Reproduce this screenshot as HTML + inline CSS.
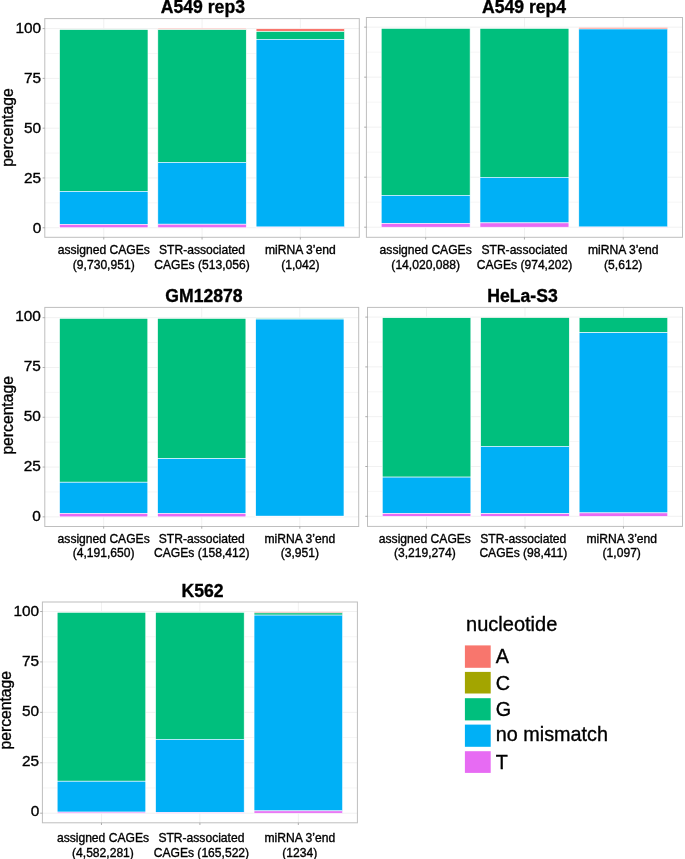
<!DOCTYPE html>
<html><head><meta charset="utf-8"><style>
html,body{margin:0;padding:0;background:#fff;overflow:hidden;width:685px;height:859px;}
svg{display:block;will-change:transform;}
text{font-family:'Liberation Sans', sans-serif;fill:#000;stroke:#000;stroke-width:0.35px;}
</style></head><body>
<svg width="685" height="859" viewBox="0 0 685 859">
<rect width="685" height="859" fill="#fff"/>
<line x1="44.8" x2="359.3" y1="202.86" y2="202.86" stroke="#f6f6f6" stroke-width="1"/>
<line x1="44.8" x2="359.3" y1="153.07" y2="153.07" stroke="#f6f6f6" stroke-width="1"/>
<line x1="44.8" x2="359.3" y1="103.28" y2="103.28" stroke="#f6f6f6" stroke-width="1"/>
<line x1="44.8" x2="359.3" y1="53.49" y2="53.49" stroke="#f6f6f6" stroke-width="1"/>
<line x1="44.8" x2="359.3" y1="227.75" y2="227.75" stroke="#f1f1f1" stroke-width="1"/>
<line x1="44.8" x2="359.3" y1="177.96" y2="177.96" stroke="#f1f1f1" stroke-width="1"/>
<line x1="44.8" x2="359.3" y1="128.18" y2="128.18" stroke="#f1f1f1" stroke-width="1"/>
<line x1="44.8" x2="359.3" y1="78.39" y2="78.39" stroke="#f1f1f1" stroke-width="1"/>
<line x1="44.8" x2="359.3" y1="28.60" y2="28.60" stroke="#f1f1f1" stroke-width="1"/>
<line x1="103.77" x2="103.77" y1="18.6" y2="237.3" stroke="#f1f1f1" stroke-width="1"/>
<line x1="202.05" x2="202.05" y1="18.6" y2="237.3" stroke="#f1f1f1" stroke-width="1"/>
<line x1="300.33" x2="300.33" y1="18.6" y2="237.3" stroke="#f1f1f1" stroke-width="1"/>
<rect x="59.54" y="29.60" width="88.45" height="161.80" fill="#00BF7D" stroke="#fff" stroke-width="0.6"/>
<rect x="59.54" y="191.40" width="88.45" height="32.90" fill="#00B0F6" stroke="#fff" stroke-width="0.6"/>
<rect x="59.54" y="224.30" width="88.45" height="3.45" fill="#E76BF3" stroke="#fff" stroke-width="0.6"/>
<rect x="157.82" y="28.35" width="88.45" height="1.35" fill="#F8766D" stroke="#fff" stroke-width="0.6"/>
<rect x="157.82" y="29.70" width="88.45" height="132.70" fill="#00BF7D" stroke="#fff" stroke-width="0.6"/>
<rect x="157.82" y="162.40" width="88.45" height="61.80" fill="#00B0F6" stroke="#fff" stroke-width="0.6"/>
<rect x="157.82" y="224.20" width="88.45" height="3.55" fill="#E76BF3" stroke="#fff" stroke-width="0.6"/>
<rect x="256.10" y="28.70" width="88.45" height="2.80" fill="#F8766D" stroke="#fff" stroke-width="0.6"/>
<rect x="256.10" y="31.50" width="88.45" height="7.80" fill="#00BF7D" stroke="#fff" stroke-width="0.6"/>
<rect x="256.10" y="39.30" width="88.45" height="187.70" fill="#00B0F6" stroke="#fff" stroke-width="0.6"/>
<rect x="256.10" y="227.00" width="88.45" height="0.75" fill="#E76BF3" stroke="#fff" stroke-width="0.6"/>
<rect x="44.8" y="18.6" width="314.50" height="218.70" fill="none" stroke="#bebebe" stroke-width="1.0"/>
<line x1="42.60" x2="44.8" y1="227.75" y2="227.75" stroke="#999" stroke-width="0.8"/>
<line x1="42.60" x2="44.8" y1="177.96" y2="177.96" stroke="#999" stroke-width="0.8"/>
<line x1="42.60" x2="44.8" y1="128.18" y2="128.18" stroke="#999" stroke-width="0.8"/>
<line x1="42.60" x2="44.8" y1="78.39" y2="78.39" stroke="#999" stroke-width="0.8"/>
<line x1="42.60" x2="44.8" y1="28.60" y2="28.60" stroke="#999" stroke-width="0.8"/>
<line x1="103.77" x2="103.77" y1="237.3" y2="239.50" stroke="#999" stroke-width="0.8"/>
<line x1="202.05" x2="202.05" y1="237.3" y2="239.50" stroke="#999" stroke-width="0.8"/>
<line x1="300.33" x2="300.33" y1="237.3" y2="239.50" stroke="#999" stroke-width="0.8"/>
<text x="41.2" y="32.90" text-anchor="end" font-size="15.4">100</text>
<text x="41.2" y="82.70" text-anchor="end" font-size="15.4">75</text>
<text x="41.2" y="132.65" text-anchor="end" font-size="15.4">50</text>
<text x="41.2" y="182.75" text-anchor="end" font-size="15.4">25</text>
<text x="41.2" y="232.90" text-anchor="end" font-size="15.4">0</text>
<text transform="translate(12.5,127.6) rotate(-90)" text-anchor="middle" font-size="15.7">percentage</text>
<text x="202.9" y="12.9" text-anchor="middle" font-size="17.6" font-weight="bold">A549 rep3</text>
<text x="103.77" y="254.00" text-anchor="middle" font-size="12.1">assigned CAGEs</text>
<text x="103.77" y="268.70" text-anchor="middle" font-size="12.1">(9,730,951)</text>
<text x="202.05" y="254.00" text-anchor="middle" font-size="12.1">STR-associated</text>
<text x="202.05" y="268.70" text-anchor="middle" font-size="12.1">CAGEs (513,056)</text>
<text x="300.33" y="254.00" text-anchor="middle" font-size="12.1">miRNA 3’end</text>
<text x="300.33" y="268.70" text-anchor="middle" font-size="12.1">(1,042)</text>
<line x1="366.4" x2="682.5" y1="202.19" y2="202.19" stroke="#f6f6f6" stroke-width="1"/>
<line x1="366.4" x2="682.5" y1="152.18" y2="152.18" stroke="#f6f6f6" stroke-width="1"/>
<line x1="366.4" x2="682.5" y1="102.17" y2="102.17" stroke="#f6f6f6" stroke-width="1"/>
<line x1="366.4" x2="682.5" y1="52.16" y2="52.16" stroke="#f6f6f6" stroke-width="1"/>
<line x1="366.4" x2="682.5" y1="227.20" y2="227.20" stroke="#f1f1f1" stroke-width="1"/>
<line x1="366.4" x2="682.5" y1="177.19" y2="177.19" stroke="#f1f1f1" stroke-width="1"/>
<line x1="366.4" x2="682.5" y1="127.17" y2="127.17" stroke="#f1f1f1" stroke-width="1"/>
<line x1="366.4" x2="682.5" y1="77.16" y2="77.16" stroke="#f1f1f1" stroke-width="1"/>
<line x1="366.4" x2="682.5" y1="27.15" y2="27.15" stroke="#f1f1f1" stroke-width="1"/>
<line x1="425.67" x2="425.67" y1="17.5" y2="237.3" stroke="#f1f1f1" stroke-width="1"/>
<line x1="524.45" x2="524.45" y1="17.5" y2="237.3" stroke="#f1f1f1" stroke-width="1"/>
<line x1="623.23" x2="623.23" y1="17.5" y2="237.3" stroke="#f1f1f1" stroke-width="1"/>
<rect x="381.22" y="28.40" width="88.90" height="166.90" fill="#00BF7D" stroke="#fff" stroke-width="0.6"/>
<rect x="381.22" y="195.30" width="88.90" height="28.10" fill="#00B0F6" stroke="#fff" stroke-width="0.6"/>
<rect x="381.22" y="223.40" width="88.90" height="3.80" fill="#E76BF3" stroke="#fff" stroke-width="0.6"/>
<rect x="480.00" y="28.40" width="88.90" height="148.90" fill="#00BF7D" stroke="#fff" stroke-width="0.6"/>
<rect x="480.00" y="177.30" width="88.90" height="45.60" fill="#00B0F6" stroke="#fff" stroke-width="0.6"/>
<rect x="480.00" y="222.90" width="88.90" height="4.30" fill="#E76BF3" stroke="#fff" stroke-width="0.6"/>
<rect x="578.78" y="27.40" width="88.90" height="1.60" fill="#F8766D" stroke="#fff" stroke-width="0.6"/>
<rect x="578.78" y="29.00" width="88.90" height="198.00" fill="#00B0F6" stroke="#fff" stroke-width="0.6"/>
<rect x="578.78" y="227.00" width="88.90" height="0.20" fill="#E76BF3" stroke="#fff" stroke-width="0.6"/>
<rect x="366.4" y="17.5" width="316.10" height="219.80" fill="none" stroke="#bebebe" stroke-width="1.0"/>
<line x1="364.20" x2="366.4" y1="227.20" y2="227.20" stroke="#999" stroke-width="0.8"/>
<line x1="364.20" x2="366.4" y1="177.19" y2="177.19" stroke="#999" stroke-width="0.8"/>
<line x1="364.20" x2="366.4" y1="127.17" y2="127.17" stroke="#999" stroke-width="0.8"/>
<line x1="364.20" x2="366.4" y1="77.16" y2="77.16" stroke="#999" stroke-width="0.8"/>
<line x1="364.20" x2="366.4" y1="27.15" y2="27.15" stroke="#999" stroke-width="0.8"/>
<line x1="425.67" x2="425.67" y1="237.3" y2="239.50" stroke="#999" stroke-width="0.8"/>
<line x1="524.45" x2="524.45" y1="237.3" y2="239.50" stroke="#999" stroke-width="0.8"/>
<line x1="623.23" x2="623.23" y1="237.3" y2="239.50" stroke="#999" stroke-width="0.8"/>
<text x="524.0" y="12.9" text-anchor="middle" font-size="17.6" font-weight="bold">A549 rep4</text>
<text x="425.67" y="254.00" text-anchor="middle" font-size="12.1">assigned CAGEs</text>
<text x="425.67" y="268.70" text-anchor="middle" font-size="12.1">(14,020,088)</text>
<text x="524.45" y="254.00" text-anchor="middle" font-size="12.1">STR-associated</text>
<text x="524.45" y="268.70" text-anchor="middle" font-size="12.1">CAGEs (974,202)</text>
<text x="623.23" y="254.00" text-anchor="middle" font-size="12.1">miRNA 3’end</text>
<text x="623.23" y="268.70" text-anchor="middle" font-size="12.1">(5,612)</text>
<line x1="44.8" x2="358.7" y1="491.96" y2="491.96" stroke="#f6f6f6" stroke-width="1"/>
<line x1="44.8" x2="358.7" y1="442.17" y2="442.17" stroke="#f6f6f6" stroke-width="1"/>
<line x1="44.8" x2="358.7" y1="392.38" y2="392.38" stroke="#f6f6f6" stroke-width="1"/>
<line x1="44.8" x2="358.7" y1="342.59" y2="342.59" stroke="#f6f6f6" stroke-width="1"/>
<line x1="44.8" x2="358.7" y1="516.85" y2="516.85" stroke="#f1f1f1" stroke-width="1"/>
<line x1="44.8" x2="358.7" y1="467.06" y2="467.06" stroke="#f1f1f1" stroke-width="1"/>
<line x1="44.8" x2="358.7" y1="417.27" y2="417.27" stroke="#f1f1f1" stroke-width="1"/>
<line x1="44.8" x2="358.7" y1="367.49" y2="367.49" stroke="#f1f1f1" stroke-width="1"/>
<line x1="44.8" x2="358.7" y1="317.70" y2="317.70" stroke="#f1f1f1" stroke-width="1"/>
<line x1="103.66" x2="103.66" y1="307.4" y2="526.5" stroke="#f1f1f1" stroke-width="1"/>
<line x1="201.75" x2="201.75" y1="307.4" y2="526.5" stroke="#f1f1f1" stroke-width="1"/>
<line x1="299.84" x2="299.84" y1="307.4" y2="526.5" stroke="#f1f1f1" stroke-width="1"/>
<rect x="59.51" y="318.40" width="88.28" height="163.80" fill="#00BF7D" stroke="#fff" stroke-width="0.6"/>
<rect x="59.51" y="482.20" width="88.28" height="31.20" fill="#00B0F6" stroke="#fff" stroke-width="0.6"/>
<rect x="59.51" y="513.40" width="88.28" height="3.45" fill="#E76BF3" stroke="#fff" stroke-width="0.6"/>
<rect x="157.61" y="318.40" width="88.28" height="140.10" fill="#00BF7D" stroke="#fff" stroke-width="0.6"/>
<rect x="157.61" y="458.50" width="88.28" height="54.90" fill="#00B0F6" stroke="#fff" stroke-width="0.6"/>
<rect x="157.61" y="513.40" width="88.28" height="3.45" fill="#E76BF3" stroke="#fff" stroke-width="0.6"/>
<rect x="255.70" y="318.20" width="88.28" height="0.90" fill="#00BF7D" stroke="#fff" stroke-width="0.6"/>
<rect x="255.70" y="319.10" width="88.28" height="197.10" fill="#00B0F6" stroke="#fff" stroke-width="0.6"/>
<rect x="255.70" y="516.20" width="88.28" height="0.65" fill="#E76BF3" stroke="#fff" stroke-width="0.6"/>
<rect x="44.8" y="307.4" width="313.90" height="219.10" fill="none" stroke="#bebebe" stroke-width="1.0"/>
<line x1="42.60" x2="44.8" y1="516.85" y2="516.85" stroke="#999" stroke-width="0.8"/>
<line x1="42.60" x2="44.8" y1="467.06" y2="467.06" stroke="#999" stroke-width="0.8"/>
<line x1="42.60" x2="44.8" y1="417.27" y2="417.27" stroke="#999" stroke-width="0.8"/>
<line x1="42.60" x2="44.8" y1="367.49" y2="367.49" stroke="#999" stroke-width="0.8"/>
<line x1="42.60" x2="44.8" y1="317.70" y2="317.70" stroke="#999" stroke-width="0.8"/>
<line x1="103.66" x2="103.66" y1="526.5" y2="528.70" stroke="#999" stroke-width="0.8"/>
<line x1="201.75" x2="201.75" y1="526.5" y2="528.70" stroke="#999" stroke-width="0.8"/>
<line x1="299.84" x2="299.84" y1="526.5" y2="528.70" stroke="#999" stroke-width="0.8"/>
<text x="40.9" y="321.20" text-anchor="end" font-size="15.4">100</text>
<text x="40.9" y="370.80" text-anchor="end" font-size="15.4">75</text>
<text x="40.9" y="421.10" text-anchor="end" font-size="15.4">50</text>
<text x="40.9" y="471.30" text-anchor="end" font-size="15.4">25</text>
<text x="40.9" y="521.40" text-anchor="end" font-size="15.4">0</text>
<text transform="translate(12.7,415.35) rotate(-90)" text-anchor="middle" font-size="15.7">percentage</text>
<text x="204.0" y="301.9" text-anchor="middle" font-size="17.6" font-weight="bold">GM12878</text>
<text x="103.66" y="542.90" text-anchor="middle" font-size="12.1">assigned CAGEs</text>
<text x="103.66" y="557.00" text-anchor="middle" font-size="12.1">(4,191,650)</text>
<text x="201.75" y="542.90" text-anchor="middle" font-size="12.1">STR-associated</text>
<text x="201.75" y="557.00" text-anchor="middle" font-size="12.1">CAGEs (158,412)</text>
<text x="299.84" y="542.90" text-anchor="middle" font-size="12.1">miRNA 3’end</text>
<text x="299.84" y="557.00" text-anchor="middle" font-size="12.1">(3,951)</text>
<line x1="367.5" x2="682.5" y1="491.40" y2="491.40" stroke="#f6f6f6" stroke-width="1"/>
<line x1="367.5" x2="682.5" y1="441.60" y2="441.60" stroke="#f6f6f6" stroke-width="1"/>
<line x1="367.5" x2="682.5" y1="391.80" y2="391.80" stroke="#f6f6f6" stroke-width="1"/>
<line x1="367.5" x2="682.5" y1="342.00" y2="342.00" stroke="#f6f6f6" stroke-width="1"/>
<line x1="367.5" x2="682.5" y1="516.30" y2="516.30" stroke="#f1f1f1" stroke-width="1"/>
<line x1="367.5" x2="682.5" y1="466.50" y2="466.50" stroke="#f1f1f1" stroke-width="1"/>
<line x1="367.5" x2="682.5" y1="416.70" y2="416.70" stroke="#f1f1f1" stroke-width="1"/>
<line x1="367.5" x2="682.5" y1="366.90" y2="366.90" stroke="#f1f1f1" stroke-width="1"/>
<line x1="367.5" x2="682.5" y1="317.10" y2="317.10" stroke="#f1f1f1" stroke-width="1"/>
<line x1="426.56" x2="426.56" y1="307.4" y2="526.4" stroke="#f1f1f1" stroke-width="1"/>
<line x1="525.00" x2="525.00" y1="307.4" y2="526.4" stroke="#f1f1f1" stroke-width="1"/>
<line x1="623.44" x2="623.44" y1="307.4" y2="526.4" stroke="#f1f1f1" stroke-width="1"/>
<rect x="382.27" y="317.10" width="88.59" height="0.60" fill="#F8766D" stroke="#fff" stroke-width="0.6"/>
<rect x="382.27" y="317.70" width="88.59" height="159.40" fill="#00BF7D" stroke="#fff" stroke-width="0.6"/>
<rect x="382.27" y="477.10" width="88.59" height="36.30" fill="#00B0F6" stroke="#fff" stroke-width="0.6"/>
<rect x="382.27" y="513.40" width="88.59" height="2.90" fill="#E76BF3" stroke="#fff" stroke-width="0.6"/>
<rect x="480.70" y="317.10" width="88.59" height="0.50" fill="#F8766D" stroke="#fff" stroke-width="0.6"/>
<rect x="480.70" y="317.60" width="88.59" height="128.80" fill="#00BF7D" stroke="#fff" stroke-width="0.6"/>
<rect x="480.70" y="446.40" width="88.59" height="67.20" fill="#00B0F6" stroke="#fff" stroke-width="0.6"/>
<rect x="480.70" y="513.60" width="88.59" height="2.70" fill="#E76BF3" stroke="#fff" stroke-width="0.6"/>
<rect x="579.14" y="317.70" width="88.59" height="15.00" fill="#00BF7D" stroke="#fff" stroke-width="0.6"/>
<rect x="579.14" y="332.70" width="88.59" height="180.20" fill="#00B0F6" stroke="#fff" stroke-width="0.6"/>
<rect x="579.14" y="512.90" width="88.59" height="3.40" fill="#E76BF3" stroke="#fff" stroke-width="0.6"/>
<rect x="367.5" y="307.4" width="315.00" height="219.00" fill="none" stroke="#bebebe" stroke-width="1.0"/>
<line x1="365.30" x2="367.5" y1="516.30" y2="516.30" stroke="#999" stroke-width="0.8"/>
<line x1="365.30" x2="367.5" y1="466.50" y2="466.50" stroke="#999" stroke-width="0.8"/>
<line x1="365.30" x2="367.5" y1="416.70" y2="416.70" stroke="#999" stroke-width="0.8"/>
<line x1="365.30" x2="367.5" y1="366.90" y2="366.90" stroke="#999" stroke-width="0.8"/>
<line x1="365.30" x2="367.5" y1="317.10" y2="317.10" stroke="#999" stroke-width="0.8"/>
<line x1="426.56" x2="426.56" y1="526.4" y2="528.60" stroke="#999" stroke-width="0.8"/>
<line x1="525.00" x2="525.00" y1="526.4" y2="528.60" stroke="#999" stroke-width="0.8"/>
<line x1="623.44" x2="623.44" y1="526.4" y2="528.60" stroke="#999" stroke-width="0.8"/>
<text x="522.5" y="301.9" text-anchor="middle" font-size="17.6" font-weight="bold">HeLa-S3</text>
<text x="424.86" y="542.90" text-anchor="middle" font-size="12.1">assigned CAGEs</text>
<text x="424.86" y="557.00" text-anchor="middle" font-size="12.1">(3,219,274)</text>
<text x="523.30" y="542.90" text-anchor="middle" font-size="12.1">STR-associated</text>
<text x="523.30" y="557.00" text-anchor="middle" font-size="12.1">CAGEs (98,411)</text>
<text x="621.74" y="542.90" text-anchor="middle" font-size="12.1">miRNA 3’end</text>
<text x="621.74" y="557.00" text-anchor="middle" font-size="12.1">(1,097)</text>
<line x1="42.4" x2="357.4" y1="787.99" y2="787.99" stroke="#f6f6f6" stroke-width="1"/>
<line x1="42.4" x2="357.4" y1="737.56" y2="737.56" stroke="#f6f6f6" stroke-width="1"/>
<line x1="42.4" x2="357.4" y1="687.14" y2="687.14" stroke="#f6f6f6" stroke-width="1"/>
<line x1="42.4" x2="357.4" y1="636.71" y2="636.71" stroke="#f6f6f6" stroke-width="1"/>
<line x1="42.4" x2="357.4" y1="813.20" y2="813.20" stroke="#f1f1f1" stroke-width="1"/>
<line x1="42.4" x2="357.4" y1="762.78" y2="762.78" stroke="#f1f1f1" stroke-width="1"/>
<line x1="42.4" x2="357.4" y1="712.35" y2="712.35" stroke="#f1f1f1" stroke-width="1"/>
<line x1="42.4" x2="357.4" y1="661.92" y2="661.92" stroke="#f1f1f1" stroke-width="1"/>
<line x1="42.4" x2="357.4" y1="611.50" y2="611.50" stroke="#f1f1f1" stroke-width="1"/>
<line x1="101.46" x2="101.46" y1="602.0" y2="822.8" stroke="#f1f1f1" stroke-width="1"/>
<line x1="199.90" x2="199.90" y1="602.0" y2="822.8" stroke="#f1f1f1" stroke-width="1"/>
<line x1="298.34" x2="298.34" y1="602.0" y2="822.8" stroke="#f1f1f1" stroke-width="1"/>
<rect x="57.17" y="612.30" width="88.59" height="168.90" fill="#00BF7D" stroke="#fff" stroke-width="0.6"/>
<rect x="57.17" y="781.20" width="88.59" height="30.90" fill="#00B0F6" stroke="#fff" stroke-width="0.6"/>
<rect x="57.17" y="812.10" width="88.59" height="1.10" fill="#E76BF3" stroke="#fff" stroke-width="0.6"/>
<rect x="155.60" y="612.30" width="88.59" height="127.00" fill="#00BF7D" stroke="#fff" stroke-width="0.6"/>
<rect x="155.60" y="739.30" width="88.59" height="73.10" fill="#00B0F6" stroke="#fff" stroke-width="0.6"/>
<rect x="155.60" y="812.40" width="88.59" height="0.80" fill="#E76BF3" stroke="#fff" stroke-width="0.6"/>
<rect x="254.04" y="611.70" width="88.59" height="1.20" fill="#F8766D" stroke="#fff" stroke-width="0.6"/>
<rect x="254.04" y="612.90" width="88.59" height="2.20" fill="#00BF7D" stroke="#fff" stroke-width="0.6"/>
<rect x="254.04" y="615.10" width="88.59" height="195.80" fill="#00B0F6" stroke="#fff" stroke-width="0.6"/>
<rect x="254.04" y="810.90" width="88.59" height="2.30" fill="#E76BF3" stroke="#fff" stroke-width="0.6"/>
<rect x="42.4" y="602.0" width="315.00" height="220.80" fill="none" stroke="#bebebe" stroke-width="1.0"/>
<line x1="40.20" x2="42.4" y1="813.20" y2="813.20" stroke="#999" stroke-width="0.8"/>
<line x1="40.20" x2="42.4" y1="762.78" y2="762.78" stroke="#999" stroke-width="0.8"/>
<line x1="40.20" x2="42.4" y1="712.35" y2="712.35" stroke="#999" stroke-width="0.8"/>
<line x1="40.20" x2="42.4" y1="661.92" y2="661.92" stroke="#999" stroke-width="0.8"/>
<line x1="40.20" x2="42.4" y1="611.50" y2="611.50" stroke="#999" stroke-width="0.8"/>
<line x1="101.46" x2="101.46" y1="822.8" y2="825.00" stroke="#999" stroke-width="0.8"/>
<line x1="199.90" x2="199.90" y1="822.8" y2="825.00" stroke="#999" stroke-width="0.8"/>
<line x1="298.34" x2="298.34" y1="822.8" y2="825.00" stroke="#999" stroke-width="0.8"/>
<text x="39.2" y="615.50" text-anchor="end" font-size="15.4">100</text>
<text x="39.2" y="665.80" text-anchor="end" font-size="15.4">75</text>
<text x="39.2" y="716.10" text-anchor="end" font-size="15.4">50</text>
<text x="39.2" y="766.00" text-anchor="end" font-size="15.4">25</text>
<text x="39.2" y="816.10" text-anchor="end" font-size="15.4">0</text>
<text transform="translate(11.4,710.2) rotate(-90)" text-anchor="middle" font-size="15.7">percentage</text>
<text x="202.5" y="597.0" text-anchor="middle" font-size="17.6" font-weight="bold">K562</text>
<text x="102.96" y="841.90" text-anchor="middle" font-size="12.1">assigned CAGEs</text>
<text x="102.96" y="857.00" text-anchor="middle" font-size="12.1">(4,582,281)</text>
<text x="201.40" y="841.90" text-anchor="middle" font-size="12.1">STR-associated</text>
<text x="201.40" y="857.00" text-anchor="middle" font-size="12.1">CAGEs (165,522)</text>
<text x="299.84" y="841.90" text-anchor="middle" font-size="12.1">miRNA 3’end</text>
<text x="299.84" y="857.00" text-anchor="middle" font-size="12.1">(1234)</text>
<text x="466.1" y="630.8" font-size="20.0">nucleotide</text>
<rect x="464.9" y="645.4" width="25.8" height="22.40" fill="#F8766D"/>
<text x="495.8" y="662.8" font-size="19.8">A</text>
<rect x="464.9" y="671.9" width="25.8" height="21.60" fill="#A3A500"/>
<text x="495.8" y="689.8" font-size="19.8">C</text>
<rect x="464.9" y="698.2" width="25.8" height="22.20" fill="#00BF7D"/>
<text x="495.8" y="715.8" font-size="19.8">G</text>
<rect x="464.9" y="724.6" width="25.8" height="22.20" fill="#00B0F6"/>
<text x="495.8" y="740.8" font-size="19.8">no mismatch</text>
<rect x="464.9" y="751.2" width="25.8" height="21.70" fill="#E76BF3"/>
<text x="495.8" y="768.8" font-size="19.8">T</text>
</svg>
</body></html>
